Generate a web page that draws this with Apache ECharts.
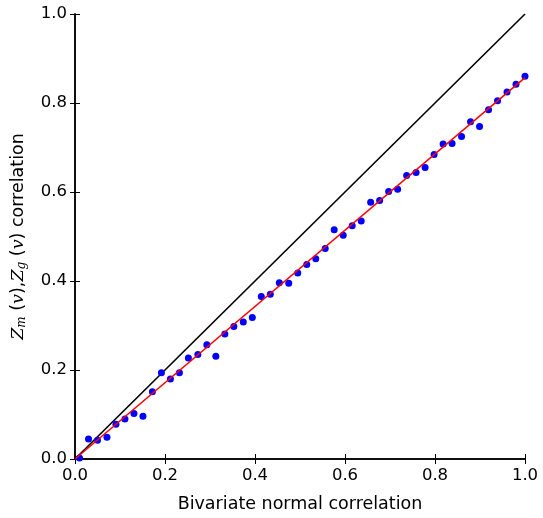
<!DOCTYPE html>
<html>
<head>
<meta charset="utf-8">
<script src="https://cdn.jsdelivr.net/npm/echarts@6/dist/echarts.min.js"></script>
<style>html,body{margin:0;padding:0;background:#fff}#c{width:543px;height:518px}</style>
</head>
<body>
<div id="c"></div>
<script>
const xVals = [0.010, 0.030, 0.050, 0.071, 0.091, 0.111, 0.131, 0.151, 0.172, 0.192,
  0.212, 0.232, 0.252, 0.273, 0.293, 0.313, 0.333, 0.353, 0.374, 0.394,
  0.414, 0.434, 0.454, 0.475, 0.495, 0.515, 0.535, 0.556, 0.576, 0.596,
  0.616, 0.636, 0.657, 0.677, 0.697, 0.717, 0.737, 0.758, 0.778, 0.798,
  0.818, 0.838, 0.859, 0.879, 0.899, 0.919, 0.939, 0.960, 0.980, 1.000];
const yVals = [0.002, 0.045, 0.042, 0.049, 0.078, 0.090, 0.102, 0.096, 0.151, 0.194,
  0.180, 0.194, 0.227, 0.235, 0.257, 0.231, 0.281, 0.298, 0.308, 0.318,
  0.365, 0.370, 0.396, 0.395, 0.418, 0.437, 0.450, 0.473, 0.515, 0.503,
  0.524, 0.535, 0.577, 0.581, 0.601, 0.606, 0.637, 0.644, 0.655, 0.684,
  0.708, 0.709, 0.725, 0.758, 0.747, 0.785, 0.805, 0.825, 0.842, 0.860];
const identityLine = [[0, 0], [1, 1]];
const fitLine = [[0, 0], [1, 0.857]];
const tickLabels = ['0.0', '0.2', '0.4', '0.6', '0.8', '1.0'];

const font = 'DejaVu Sans';
const fmt = v => tickLabels[Math.round(v * 5)];
const axisCommon = {
  type: 'value', min: 0, max: 1, interval: 0.2,
  splitLine: {show: false},
  axisLine: {show: true, lineStyle: {color: '#000', width: 1.5}},
  axisTick: {show: true, inside: true, length: 5, lineStyle: {color: '#000', width: 1}}
};
const chart = echarts.init(document.getElementById('c'));
chart.setOption({
  animation: false,
  backgroundColor: '#fff',
  grid: {left: 75, top: 14, width: 450, height: 449, containLabel: false},
  xAxis: [
    Object.assign({}, axisCommon, {
      position: 'bottom',
      axisLabel: {formatter: fmt, fontFamily: font, fontSize: 16.5, color: '#000', margin: 8},
      name: 'Bivariate normal correlation', nameLocation: 'middle', nameGap: 36,
      nameTextStyle: {fontFamily: font, fontSize: 17.5, color: '#000'}
    }),
    Object.assign({}, axisCommon, {position: 'top', axisLabel: {show: false}})
  ],
  yAxis: [
    Object.assign({}, axisCommon, {
      position: 'left',
      axisLabel: {formatter: fmt, fontFamily: font, fontSize: 16.5, color: '#000', margin: 8},
      name: '{z|Z}{s|m}{n| (}{z|v}{n|),}{z|Z}{s|g}{n| (}{z|v}{n|) correlation}',
      nameLocation: 'middle', nameGap: 47, nameRotate: 90,
      nameTextStyle: {
        fontFamily: font, fontSize: 17.5, color: '#000',
        rich: {
          z: {fontFamily: 'DejaVu Serif', fontStyle: 'italic', fontSize: 17.5, color: '#000'},
          s: {fontFamily: 'DejaVu Serif', fontStyle: 'italic', fontSize: 12, color: '#000', padding: [7, 0, 0, 0]},
          n: {fontFamily: font, fontSize: 17.5, color: '#000'}
        }
      }
    }),
    Object.assign({}, axisCommon, {position: 'right', axisLabel: {show: false}})
  ],
  series: [
    {type: 'line', data: identityLine, symbol: 'none', lineStyle: {color: '#000', width: 1.6}, z: 2},
    {type: 'line', data: fitLine, symbol: 'none', lineStyle: {color: '#ff0000', width: 1.5}, z: 4},
    {type: 'scatter', data: xVals.map((x, i) => [x, yVals[i]]), symbolSize: 7,
     itemStyle: {color: '#0000ff', opacity: 1}, z: 3}
  ]
});
</script>
</body>
</html>
